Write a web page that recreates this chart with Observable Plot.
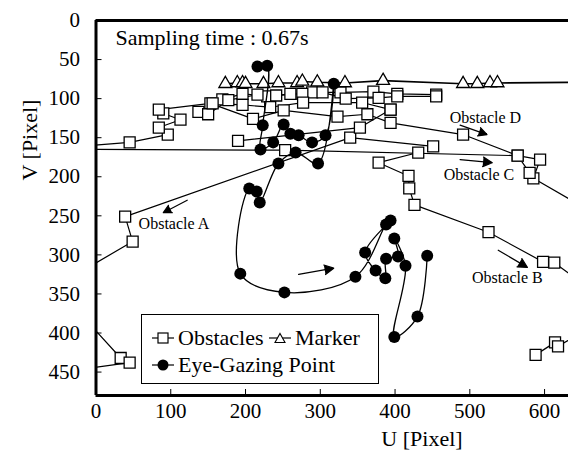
<!DOCTYPE html>
<html><head><meta charset="utf-8">
<script src="https://cdn.jsdelivr.net/npm/d3@7"></script>
<script src="https://cdn.jsdelivr.net/npm/@observablehq/plot@0.6"></script>
<style>
html,body{margin:0;padding:0;background:#fff;}
#wrap{position:relative;width:568px;height:458px;overflow:hidden;font-family:"Liberation Serif","Times New Roman",serif;color:#000;}
#wrap svg{display:block;}
.lbl{position:absolute;font-size:22px;white-space:nowrap;line-height:1;}
#ylab{left:30px;top:140px;transform:translate(-50%,-50%) rotate(-90deg);}
#xlab{left:422px;top:439px;transform:translate(-50%,-50%);}
#legend{position:absolute;left:141px;top:314px;width:236px;height:68px;border:1px solid #000;background:#fff;font-size:22px;}
.it{position:absolute;display:flex;align-items:center;white-space:nowrap;line-height:1;}
.it svg{margin-right:4px;}
</style></head><body>
<div id="wrap"></div>
<script>
// ---- data (U, V in pixels of the camera image) ----
const xTicks = [0, 100, 200, 300, 400, 500, 600];
const yTicks = [0, 50, 100, 150, 200, 250, 300, 350, 400, 450];

const obstacleA  = [[451,161],[340,150],[39,251],[49,283],[-14,318]];
const obstacleA2 = [[-34,362],[33,432],[45,438],[-34,448]];
const obstacleB  = [[431,169],[378,182],[418,199],[419,215],[426,236],[525,271],[598,309],[613,310],[654,339]];
const obstacleC  = [[-21,165],[253,166],[564,173],[594,178],[585,202],[661,244]];
const obstacleD  = [[-21,161],[45,156],[96,146],[84,137],[113,127],[90,119],[84,114],[153,106],[210,126],[251,115],[323,123],[363,120],[394,131],[491,146],[564,173],[580,195]];
const obstacleE1 = [[137,117],[169,101],[196,94],[229,97],[260,94],[289,92],[327,92],[371,91],[403,94],[455,95]];
const obstacleE2 = [[150,120],[177,102],[216,95],[241,96],[276,94],[303,92],[334,100],[378,99],[403,97],[455,97]];
const obstacleF  = [[156,106],[196,108],[233,111],[277,105],[356,105],[394,114]];
const obstacleG  = [[190,154],[353,137],[394,114]];
const obstacleH  = [[588,428],[614,412],[618,417],[675,385]];

const markerU = [173,189,196,200,224,244,269,276,296,333,384,491,510,527,537,650];
const markerV = [81,80,80,81,81,80,80,78,79,80,77,81,81,80,80,79];

const eyeU = [216,229,223,220,237,251,260,271,289,307,318,297,267,244,219,215,205,193,252,347,388,394,360,374,387,388,404,399,414,399,430,443];
const eyeV = [59,58,134,165,156,133,145,147,156,147,81,183,169,183,233,219,215,324,348,328,261,256,297,320,330,305,302,279,314,405,379,301];

const annoText = ["Sampling time : 0.67s","Obstacle A","Obstacle B","Obstacle C","Obstacle D"];
const annoU = [26, 57, 503, 465, 473];
const annoV = [22, 260, 329, 198, 125];
const annoSize = [22, 16, 16, 16, 16];

const arrowU1 = [122, 487, 487, 538, 271];
const arrowV1 = [230, 134, 178, 294, 325];
const arrowU2 = [90, 523, 530, 577, 318];
const arrowV2 = [246, 146, 182, 316, 317];

// ---- tables ----
const tracks = {A:obstacleA,A2:obstacleA2,B:obstacleB,C:obstacleC,D:obstacleD,E1:obstacleE1,E2:obstacleE2,F:obstacleF,G:obstacleG,H:obstacleH};
const obsRows = [];
for (const [k, arr] of Object.entries(tracks)) arr.forEach(([u,v]) => obsRows.push({track:k, u, v}));
const markers = markerU.map((u,i) => ({u, v: markerV[i]}));
const eye = eyeU.map((u,i) => ({u, v: eyeV[i]}));
const annos = annoText.map((t,i) => ({t, u: annoU[i], v: annoV[i], s: annoSize[i]}));
const arrows = arrowU1.map((u,i) => ({u1:u, v1:arrowV1[i], u2:arrowU2[i], v2:arrowV2[i]}));

const plot = Plot.plot({
  width: 568, height: 458,
  marginLeft: 95.5, marginRight: 0, marginTop: 20, marginBottom: 63,
  x: {domain: [0, 632]},
  y: {domain: [0, 480], reverse: true},
  style: {fontFamily: "Liberation Serif, Times New Roman, serif", fontSize: "21px", color: "black", background: "white"},
  marks: [
    Plot.line(obsRows, {x: "u", y: "v", z: "track", stroke: "black", strokeWidth: 1.2, clip: true}),
    Plot.dot(obsRows, {x: "u", y: "v", symbol: "square", r: 6.2, fill: "white", stroke: "black", strokeWidth: 1.3, clip: true}),
    Plot.line(markers, {x: "u", y: "v", stroke: "black", strokeWidth: 1.6, clip: true}),
    Plot.dot(markers, {x: "u", y: "v", symbol: "triangle", r: 4.8, fill: "white", stroke: "black", strokeWidth: 1.3, clip: true}),
    Plot.line(eye, {x: "u", y: "v", curve: "catmull-rom", stroke: "black", strokeWidth: 1.3, clip: true}),
    Plot.dot(eye, {x: "u", y: "v", r: 6, fill: "black", clip: true}),
    Plot.arrow(arrows, {x1: "u1", y1: "v1", x2: "u2", y2: "v2", stroke: "black", fill: "black", strokeWidth: 1.2, strokeLinejoin: "miter", headLength: 13, headAngle: 55}),
    Plot.text(annos, {x: "u", y: "v", text: "t", fontSize: "s", textAnchor: "start", lineAnchor: "middle", fill: "black", fontWeight: (d) => d.s < 20 ? "bold" : "normal"}),
    Plot.axisX(xTicks, {tickSize: -6, tickPadding: 14, label: null, fontSize: 21}),
    Plot.axisY(yTicks, {tickSize: -6, tickPadding: 22, label: null, fontSize: 21}),
    Plot.ruleX([0], {stroke: "black", strokeWidth: 3}),
    Plot.ruleY([0, 480], {stroke: "black", strokeWidth: 3})
  ]
});

const wrap = document.getElementById("wrap");
wrap.appendChild(plot);

function addLabel(id, text) {
  const d = document.createElement("div");
  d.className = "lbl"; d.id = id; d.textContent = text;
  wrap.appendChild(d);
}
addLabel("ylab", "V [Pixel]");
addLabel("xlab", "U [Pixel]");

// legend
const lg = document.createElement("div");
lg.id = "legend";
const sym = {
  square: '<rect x="6" y="3" width="10" height="10" fill="white" stroke="black" stroke-width="1.2"/>',
  triangle: '<path d="M11,3.5L16,12.5L6,12.5Z" fill="white" stroke="black" stroke-width="1.1"/>',
  circle: '<circle cx="11" cy="8" r="5.5" fill="black"/>'
};
const legendItems = [
  {name: "Obstacles", s: "square", left: 10, top: 12},
  {name: "Marker", s: "triangle", left: 127, top: 12},
  {name: "Eye-Gazing Point", s: "circle", left: 10, top: 39}
];
for (const it of legendItems) {
  const d = document.createElement("div");
  d.className = "it";
  d.style.left = it.left + "px"; d.style.top = it.top + "px";
  d.innerHTML = `<svg width="22" height="16"><line x1="0" y1="8" x2="22" y2="8" stroke="black" stroke-width="1.2"/>${sym[it.s]}</svg><span>${it.name}</span>`;
  lg.appendChild(d);
}
wrap.appendChild(lg);
</script>
</body></html>
